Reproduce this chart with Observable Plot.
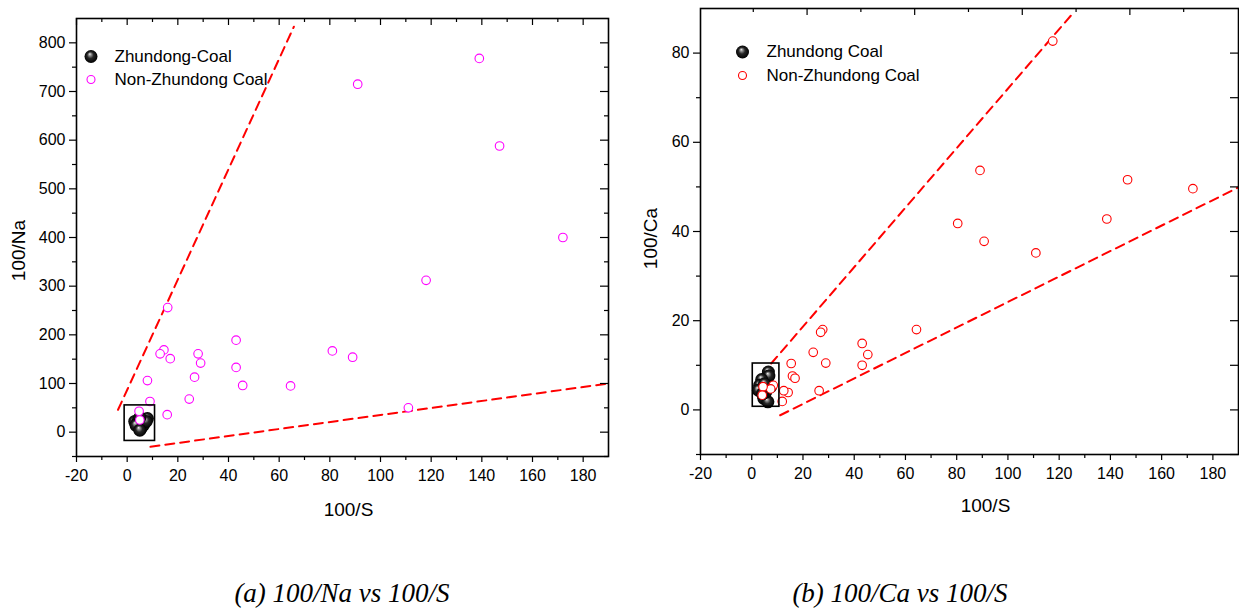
<!DOCTYPE html>
<html><head><meta charset="utf-8">
<script src="https://cdn.jsdelivr.net/npm/d3@7"></script>
<script src="https://cdn.jsdelivr.net/npm/@observablehq/plot@0.6"></script>
<style>
body{margin:0;background:#fff;}
#wrap{position:relative;width:1239px;height:610px;background:#fff;overflow:hidden;}
.panel{position:absolute;top:0;}
.cap{position:absolute;top:578px;line-height:30px;font-family:"Liberation Serif","Times New Roman",serif;font-style:italic;font-size:27px;color:#000;white-space:nowrap;transform:translateX(-50%);}
</style></head><body>
<div id="wrap">
<div id="pa" class="panel" style="left:0"></div>
<div id="pb" class="panel" style="left:620px"></div>
<div class="cap" style="left:342px">(a) 100/Na vs 100/S</div>
<div class="cap" style="left:900px">(b) 100/Ca vs 100/S</div>
</div>
<script>
// ---------- data ----------
const xTicks = [-20, 0, 20, 40, 60, 80, 100, 120, 140, 160, 180];
const xMinorTicks = [-10, 10, 30, 50, 70, 90, 110, 130, 150, 170];
const naTicks = [0, 100, 200, 300, 400, 500, 600, 700, 800];
const naMinorTicks = [-50, 50, 150, 250, 350, 450, 550, 650, 750];
const caTicks = [0, 20, 40, 60, 80];
const caMinorTicks = [-10, 10, 30, 50, 70];
const caRightTicks = [-10, 0, 10, 20, 30, 40, 50, 60, 70, 80];
const caTopLong = [21.6, 63.6, 105.6, 147.6];
const caTopShort = [0.6, 42.6, 84.6, 126.6, 168.6];

// Panel (a): 100/S vs 100/Na
const zhundongNa = [[3,22],[4,18],[5,12],[5.5,8],[6,20],[7,26],[8,28],[4.5,26],[6.5,15],[7.5,22],[5,30],[3.5,14],[5,4]];
const nonZhundongNa = [[139,768],[91,715],[147,588],[172,400],[118,312],[16,256],[43,189],[14.5,169],[13,161],[17,151],[28,161],[29,142],[81,167],[89,154],[43,133],[26.6,113],[8,106],[45.6,96],[64.5,95],[24.5,68],[9,63],[15.8,36],[111,50],[4.7,43],[5,25]];
const naUpperLine = [[-3.6,46],[65.8,833]];
const naLowerLine = [[9.2,-30],[190,100]];
const naBox = [{x1:-1, x2:11, y1:-18, y2:55}];

// Panel (b): 100/S vs 100/Ca
const zhundongCa = [[6.5,8.5],[6.7,7.6],[3.9,6.8],[3.1,5.5],[2.6,4.4],[4.7,2.6],[6.3,1.8],[5.5,4],[7.4,5.2],[5,5.8],[4.2,3.6]];
const nonZhundongCa = [[117.5,82.7],[89.1,53.7],[146.7,51.6],[172.2,49.6],[80.4,41.8],[90.7,37.8],[138.6,42.8],[110.9,35.2],[64.3,18],[27.7,18],[26.9,17.4],[43.1,14.9],[45.3,12.4],[24,12.9],[28.9,10.5],[15.4,10.4],[43.1,10],[15.9,7.6],[16.9,7.1],[26.3,4.3],[14.2,3.9],[12.5,4.3],[11.9,1.9],[8.4,5.5],[7.4,4.7],[4.4,5.2],[4.1,3.3]];
const caUpperLine = [[7.6,10.4],[125.9,89.3]];
const caLowerLine = [[11.1,-1.2],[190,49.9]];
const caBox = [{x1:0.4, x2:10.8, y1:0.7, y2:10.4}];

const FONT = '"Liberation Sans", Arial, sans-serif';

function addGradient(svg, id) {
  const defs = d3.select(svg).insert("defs", ":first-child");
  const g = defs.append("radialGradient").attr("id", id)
    .attr("cx", "0.5").attr("cy", "0.5").attr("r", "0.5")
    .attr("fx", "0.4").attr("fy", "0.3");
  g.append("stop").attr("offset", "0").attr("stop-color", "#f4f4f4");
  g.append("stop").attr("offset", "0.18").attr("stop-color", "#9a9a9a");
  g.append("stop").attr("offset", "0.5").attr("stop-color", "#262626");
  g.append("stop").attr("offset", "1").attr("stop-color", "#000");
}

function panel(o) {
  const innerW = o.width - o.ml - o.mr;
  const innerH = o.height - o.mt - o.mb;
  const fmt = d => String(d);
  const marks = [
    Plot.line(o.upper, {x: d => d[0], y: d => d[1], stroke: "#ff0000", strokeWidth: 2, strokeDasharray: "9,6"}),
    Plot.line(o.lower, {x: d => d[0], y: d => d[1], stroke: "#ff0000", strokeWidth: 2, strokeDasharray: "9,6"}),
    Plot.dot(o.zd, {x: d => d[0], y: d => d[1], r: 6.5, fill: `url(#${o.gid})`}),
    Plot.dot(o.nz, {x: d => d[0], y: d => d[1], r: 4.3, stroke: o.color, strokeWidth: 1.1, fill: "white"}),
    Plot.rect(o.box, {x1: "x1", x2: "x2", y1: "y1", y2: "y2", stroke: "black", strokeWidth: 1.6, fill: "none"}),
    // bottom axis
    Plot.axisX({anchor: "bottom", ticks: xTicks, tickSize: 6, tickPadding: 7, fontSize: 16, tickFormat: fmt, label: null, strokeWidth: 1.2}),
    Plot.axisX({anchor: "bottom", ticks: xMinorTicks, tickSize: 4, text: null, label: null, strokeWidth: 1.2}),
    // left axis
    Plot.axisY({anchor: "left", ticks: o.yTicks, tickSize: 7, tickPadding: 4, fontSize: 16, tickFormat: fmt, label: null, strokeWidth: 1.2}),
    Plot.axisY({anchor: "left", ticks: o.yMinor, tickSize: 4, text: null, label: null, strokeWidth: 1.2}),
    // top inward ticks
    Plot.ruleX(o.topLong, {x: d => d, insetBottom: innerH - 7, stroke: "black", strokeWidth: 1.2}),
    Plot.ruleX(o.topShort, {x: d => d, insetBottom: innerH - 4, stroke: "black", strokeWidth: 1.2}),
    // right inward ticks
    Plot.ruleY(o.rightLong, {y: d => d, insetLeft: innerW - 8, stroke: "black", strokeWidth: 1.2}),
    Plot.ruleY(o.rightShort, {y: d => d, insetLeft: innerW - 4, stroke: "black", strokeWidth: 1.2}),
    Plot.frame({stroke: "black", strokeWidth: 1.6}),
    // axis titles
    Plot.text([o.xLabel], {frameAnchor: "bottom", dx: o.xlDx, dy: o.xlDy, fontSize: 19, textAnchor: "middle", lineAnchor: "middle", text: d => d}),
    Plot.text([o.yLabel], {frameAnchor: "left", dx: o.ylDx, dy: o.ylDy, rotate: -90, fontSize: 19, textAnchor: "middle", lineAnchor: "middle", text: d => d}),
    // legend
    Plot.dot([0], {frameAnchor: "top-left", dx: o.lgDx, dy: o.lgDy1, r: 6.5, fill: `url(#${o.gid})`}),
    Plot.dot([0], {frameAnchor: "top-left", dx: o.lgDx, dy: o.lgDy2, r: 4, stroke: o.color, strokeWidth: 1.1, fill: "white"}),
    Plot.text([o.lg1], {frameAnchor: "top-left", dx: o.lgTx, dy: o.lgDy1, textAnchor: "start", lineAnchor: "middle", fontSize: 17, text: d => d}),
    Plot.text([o.lg2], {frameAnchor: "top-left", dx: o.lgTx, dy: o.lgDy2, textAnchor: "start", lineAnchor: "middle", fontSize: 17, text: d => d})
  ];
  const svg = Plot.plot({
    width: o.width, height: o.height,
    marginLeft: o.ml, marginRight: o.mr, marginTop: o.mt, marginBottom: o.mb,
    x: {domain: [-20, 190]},
    y: {domain: o.yDomain},
    style: {fontFamily: FONT, fontSize: "16px", color: "black", background: "white", overflow: "visible"},
    marks
  });
  addGradient(svg, o.gid);
  return svg;
}

document.getElementById("pa").appendChild(panel({
  width: 620, height: 520, ml: 76, mr: 12, mt: 18, mb: 64,
  yDomain: [-50, 850], yTicks: naTicks, yMinor: naMinorTicks,
  topLong: xTicks, topShort: xMinorTicks,
  rightLong: naTicks, rightShort: naMinorTicks,
  upper: naUpperLine, lower: naLowerLine, zd: zhundongNa, nz: nonZhundongNa, box: naBox,
  color: "#ff00ff", gid: "sphereA",
  xLabel: "100/S", yLabel: "100/Na", xlDx: 6, xlDy: 53, ylDx: -58, ylDy: 13,
  lg1: "Zhundong-Coal", lg2: "Non-Zhundong Coal", lgDx: 14.5, lgDy1: 38, lgDy2: 61, lgTx: 38
}));

document.getElementById("pb").appendChild(panel({
  width: 619, height: 520, ml: 80, mr: 1, mt: 8, mb: 66,
  yDomain: [-10, 90], yTicks: caTicks, yMinor: caMinorTicks,
  topLong: caTopLong, topShort: caTopShort,
  rightLong: caRightTicks, rightShort: [],
  upper: caUpperLine, lower: caLowerLine, zd: zhundongCa, nz: nonZhundongCa, box: caBox,
  color: "#ff0000", gid: "sphereB",
  xLabel: "100/S", yLabel: "100/Ca", xlDx: 16, xlDy: 51, ylDx: -50, ylDy: 7,
  lg1: "Zhundong Coal", lg2: "Non-Zhundong Coal", lgDx: 42, lgDy1: 43.5, lgDy2: 67, lgTx: 66
}));
</script>
</body></html>
